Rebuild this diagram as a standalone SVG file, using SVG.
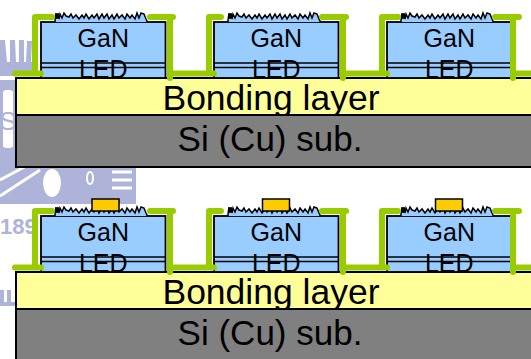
<svg xmlns="http://www.w3.org/2000/svg" xmlns:xlink="http://www.w3.org/1999/xlink" width="531" height="359" viewBox="0 0 531 359">
  <style>
    .wm { fill: #AEB3DA; }
    .bond { fill: #FFFF99; stroke: #000; stroke-width: 2; }
    .sub { fill: #808080; stroke: #000; stroke-width: 2; }
    .led { fill: #99CCFF; stroke: #000; stroke-width: 1.8; }
    .mqw { fill: none; stroke: #000; stroke-width: 1.4; }
    .rough { fill: #99CCFF; stroke: #000; stroke-width: 1.5; stroke-linejoin: miter; }
    .pass { fill: none; stroke: #99CC00; stroke-width: 6; stroke-linecap: round; stroke-linejoin: round; }
    .pad { fill: #FFCC00; stroke: #000; stroke-width: 1.5; }
    .label { font-family: "Liberation Sans", Arial, sans-serif; fill: #000; text-anchor: middle; }
    .led-label { font-size: 25px; }
    .layer-label { font-size: 35px; }
  </style>
  <defs>
    <!-- roughened p-GaN top surface, relative to the chip's top-left corner -->
    <path id="rough" class="rough" d="M14,0 L14,-2 L15,-9 L16,-3 L17,-9 L18,-3 L19,-8 L21,-4 L23,-9 L25,-6 L28,-5 L30,-8 L32,-4 L35,-7 L38,-3 L41,-7 L43,-4 L45,-8 L48,-3 L51,-7 L53,-4 L56,-8 L58,-3 L61,-8 L63,-4 L66,-8 L68,-3 L71,-7 L73,-3 L76,-8 L78,-4 L81,-7 L84,-3 L86,-8 L89,-4 L91,-7 L94,-3 L96,-9 L98,-4 L100,-9 L103,-8 L105,-3 L106,-1 L106,0"/>
    <!-- one LED chip: body, active-region lines, labels -->
    <g id="chip">
      <rect class="led" x="0" y="0" width="124.5" height="56"/>
      <line class="mqw" x1="0" y1="41" x2="124.5" y2="41"/>
      <line class="mqw" x1="0" y1="45.5" x2="124.5" y2="45.5"/>
      <use xlink:href="#rough"/>
      <text class="label led-label" x="62.3" y="25">GaN</text>
      <text class="label led-label" x="62.3" y="55.5">LED</text>
    </g>
    <!-- SiO2 passivation around the three chips -->
    <path id="passivation" class="pass" d="M15,73.5 H41 M35,73.5 V17 H52 M150,17 H173 M170,17 V78 M170,73.5 H214 M209,73.5 V17 H221 M322,17 H346 M343,17 V78 M343,73.5 H387 M382,73.5 V17 H398 M495,17 H519 M513,17 V78 M513,73.5 H540"/>
  </defs>

  <!-- faint background emblem -->
  <g id="emblem">
    <path class="wm" d="M0,40 h5 l2,22 h-7 Z M10,40 h5 l1,22 h-6 Z M19,40 h5 l0,22 h-5 Z M27,41 h5 l-1,21 h-5 Z"/>
    <rect class="wm" x="0" y="62" width="34" height="14"/>
    <rect class="wm" x="0" y="80" width="16" height="84"/>
    <rect x="3" y="90" width="10" height="58" rx="3" fill="#FFFFFF"/>
    <text x="8" y="130" font-family="Liberation Sans, sans-serif" font-size="26" fill="#AEB3DA" text-anchor="middle">S</text>
    <path class="wm" d="M0,164 H16 V168 H136 V204 H0 Z"/>
    <path d="M0,180 L30,164 M0,196 L40,170" stroke="#FFFFFF" stroke-width="3" fill="none"/>
    <ellipse cx="52" cy="183" rx="9" ry="14" fill="#FFFFFF"/>
    <ellipse cx="90" cy="178" rx="3" ry="6" fill="none" stroke="#FFFFFF" stroke-width="2"/>
    <path d="M112,172 H132 M112,180 H132 M112,188 H132" stroke="#FFFFFF" stroke-width="3"/>
    <text x="0" y="234" font-family="Liberation Sans, sans-serif" font-size="22" font-weight="bold" fill="#AEB3DA">189</text>
    <path class="wm" d="M0,290 h4 v12 h-4 Z M7,290 h4 v12 h-4 Z M0,302 H16 V306 H0 Z"/>
  </g>

  <!-- upper cross-section: before contact pads -->
  <g id="section-top">
    <g id="bonding-layer-1">
      <rect class="bond" x="16" y="78" width="530" height="37"/>
      <text class="label layer-label" x="271" y="109.5" style="font-size:35.5px">Bonding layer</text>
    </g>
    <g id="substrate-1">
      <rect class="sub" x="16" y="115" width="530" height="52"/>
      <text class="label layer-label" x="270" y="151">Si (Cu) sub.</text>
    </g>
    <g id="led-1"><use xlink:href="#chip" x="41" y="22"/></g>
    <g id="led-2"><use xlink:href="#chip" x="214" y="22"/></g>
    <g id="led-3"><use xlink:href="#chip" x="387" y="22"/></g>
    <g id="passivation-1"><use xlink:href="#passivation"/></g>
  </g>

  <!-- lower cross-section: with p-contact pads -->
  <g id="section-bottom" transform="translate(0,194)">
    <g id="bonding-layer-2">
      <rect class="bond" x="16" y="78" width="530" height="37"/>
      <text class="label layer-label" x="271" y="109.5" style="font-size:35.5px">Bonding layer</text>
    </g>
    <g id="substrate-2">
      <rect class="sub" x="16" y="115" width="530" height="60"/>
      <text class="label layer-label" x="270" y="151">Si (Cu) sub.</text>
    </g>
    <g id="led-4"><use xlink:href="#chip" x="41" y="22"/><rect class="pad" x="92" y="5" width="27" height="12"/></g>
    <g id="led-5"><use xlink:href="#chip" x="214" y="22"/><rect class="pad" x="262.5" y="5" width="27" height="12"/></g>
    <g id="led-6"><use xlink:href="#chip" x="387" y="22"/><rect class="pad" x="435.5" y="5" width="27" height="12"/></g>
    <g id="passivation-2"><use xlink:href="#passivation"/></g>
  </g>
</svg>
